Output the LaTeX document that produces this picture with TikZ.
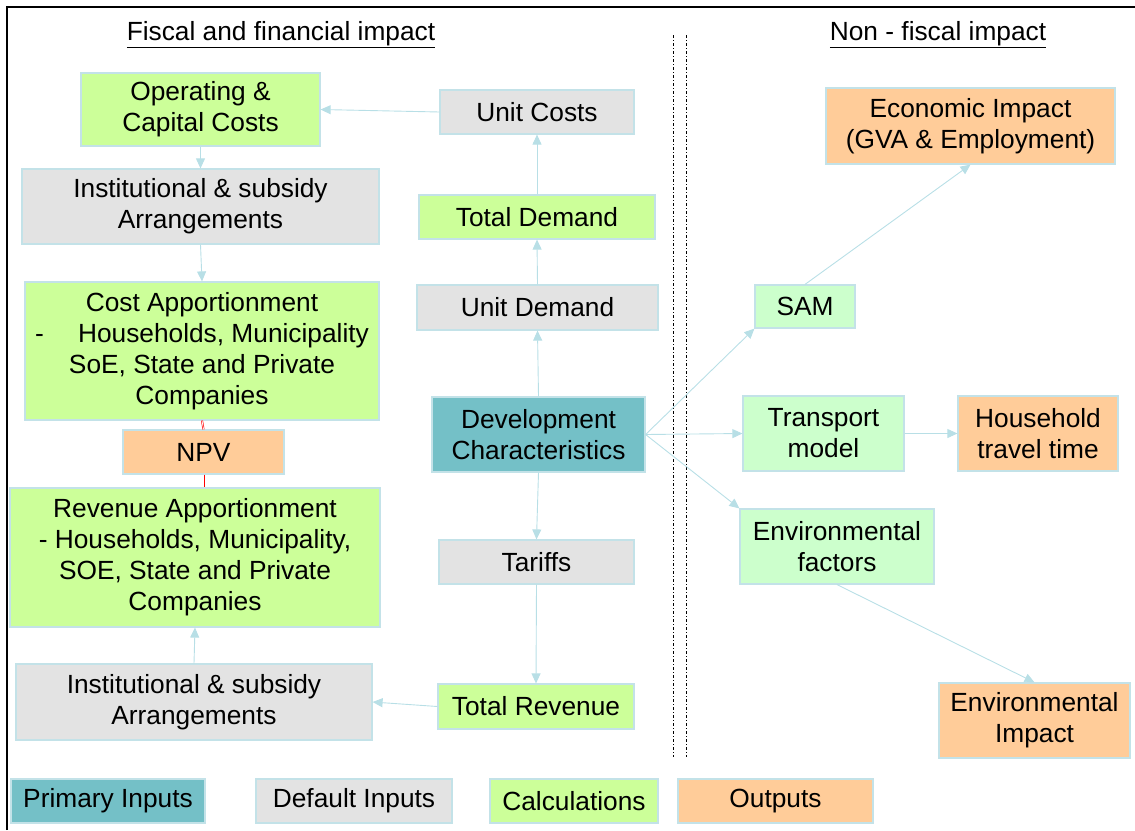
\documentclass[tikz,border=0pt]{standalone}
\usepackage{fontspec}
\setmainfont{Liberation Sans}
\usetikzlibrary{arrows.meta}
\definecolor{cgreen}{HTML}{CCFF99}
\definecolor{cgray}{HTML}{E3E3E3}
\definecolor{corange}{HTML}{FFCC99}
\definecolor{cteal}{HTML}{74C0C7}
\definecolor{clgreen}{HTML}{CCFFCC}
\definecolor{cborder}{HTML}{C3E2E8}
\definecolor{carrow}{HTML}{B8DFE6}
\tikzset{
  box/.style={draw=cborder, line width=1.2pt, rectangle, align=center, inner sep=2pt,
    font=\fontsize{26.3}{31}\selectfont},
  greenbox/.style={box, fill=cgreen},
  graybox/.style={box, fill=cgray},
  orangebox/.style={box, fill=corange},
  tealbox/.style={box, fill=cteal},
  lgreenbox/.style={box, fill=clgreen},
  conn/.style={draw=carrow, line width=0.9pt, -{Triangle[length=10pt,width=9pt]}},
  redlink/.style={draw=red, double=white, double distance=0.8pt, line width=0.6pt},
  title/.style={font=\fontsize{26.3}{30}\selectfont, inner sep=0pt},
  divider/.style={line width=0.9pt, dash pattern=on 3pt off 2pt on 1pt off 2pt}
}
\begin{document}
\begin{tikzpicture}[x=1pt,y=-1pt]
\useasboundingbox (0,0) rectangle (1135,830);
\draw[line width=2.5pt] (7,830) -- (7,7) -- (1135,7);
\draw[divider] (673,35) -- (673,757);
\draw[divider] (686,35) -- (686,757);

\node[title] (t1) at (281,35) {\underline{Fiscal and financial impact}};
\node[title] (t2) at (938,35) {\underline{Non - fiscal impact}};

% left column
\node[greenbox, minimum width=239pt, minimum height=73pt] (op) at (200.5,109.5) {Operating \&\\Capital Costs};
\node[graybox, minimum width=357pt, minimum height=75pt] (inst1) at (200.5,206.5) {Institutional \& subsidy\\Arrangements};
\node[greenbox, minimum width=354pt, minimum height=138pt] (cost) at (202,351) {Cost Apportionment\\-\hspace{1.3em}Households, Municipality\\SoE, State and Private\\Companies};
\node[orangebox, minimum width=161pt, minimum height=44pt] (npv) at (203.5,452) {NPV};
\node[greenbox, minimum width=370pt, minimum height=139pt] (rev) at (195,557.5) {Revenue Apportionment\\- Households, Municipality,\\SOE, State and Private\\Companies};
\node[graybox, minimum width=356pt, minimum height=76pt] (inst2) at (194,702) {Institutional \& subsidy\\Arrangements};

% middle column
\node[graybox, minimum width=194pt, minimum height=44pt] (ucost) at (537,112) {Unit Costs};
\node[greenbox, minimum width=236pt, minimum height=44pt] (tdem) at (537,217) {Total Demand};
\node[graybox, minimum width=241pt, minimum height=45pt] (udem) at (537.5,307.5) {Unit Demand};
\node[tealbox, minimum width=213pt, minimum height=75pt] (dev) at (538.5,434.5) {Development\\Characteristics};
\node[graybox, minimum width=195pt, minimum height=44pt] (tar) at (536.5,562) {Tariffs};
\node[greenbox, minimum width=196pt, minimum height=45pt] (trev) at (536,706.5) {Total Revenue};

% right column
\node[orangebox, minimum width=289pt, minimum height=76pt] (econ) at (970.5,126) {Economic Impact\\(GVA \& Employment)};
\node[lgreenbox, minimum width=100pt, minimum height=43pt] (sam) at (805,306.5) {SAM};
\node[lgreenbox, minimum width=161pt, minimum height=75pt] (trans) at (823.5,433.5) {Transport\\model};
\node[orangebox, minimum width=160pt, minimum height=75pt] (hh) at (1038,433.5) {Household\\travel time};
\node[lgreenbox, minimum width=194pt, minimum height=75pt] (envf) at (837,546.5) {Environmental\\factors};
\node[orangebox, minimum width=191pt, minimum height=75pt] (envi) at (1034.5,720.5) {Environmental\\Impact};

% legend
\node[tealbox, minimum width=194pt, minimum height=44pt] (l1) at (108,801) {Primary Inputs};
\node[graybox, minimum width=196pt, minimum height=44pt] (l2) at (354,801) {Default Inputs};
\node[greenbox, minimum width=168pt, minimum height=44pt] (l3) at (574,801) {Calculations};
\node[orangebox, minimum width=195pt, minimum height=44pt] (l4) at (775.5,801) {Outputs};

% connectors
\draw[conn] (ucost.west) -- (op.east);
\draw[conn] (op.south) -- (inst1.north);
\draw[conn] (inst1.south) -- (cost.north);
\draw[redlink] (cost.south) -- (npv.north);
\draw[redlink] (npv.south) -- (rev.north -| npv.south);
\draw[conn] (dev.north) -- (udem.south);
\draw[conn] (udem.north) -- (tdem.south);
\draw[conn] (tdem.north) -- (ucost.south);
\draw[conn] (dev.south) -- (tar.north);
\draw[conn] (tar.south) -- (trev.north);
\draw[conn] (trev.west) -- (inst2.east);
\draw[conn] (inst2.north) -- (rev.south);
\draw[conn] (dev.east) -- (sam.south west);
\draw[conn] (dev.east) -- (trans.west);
\draw[conn] (dev.east) -- (envf.north west);
\draw[conn] (sam.north) -- (econ.south);
\draw[conn] (trans.east) -- (hh.west);
\draw[conn] (envf.south) -- (envi.north);
\end{tikzpicture}
\end{document}
